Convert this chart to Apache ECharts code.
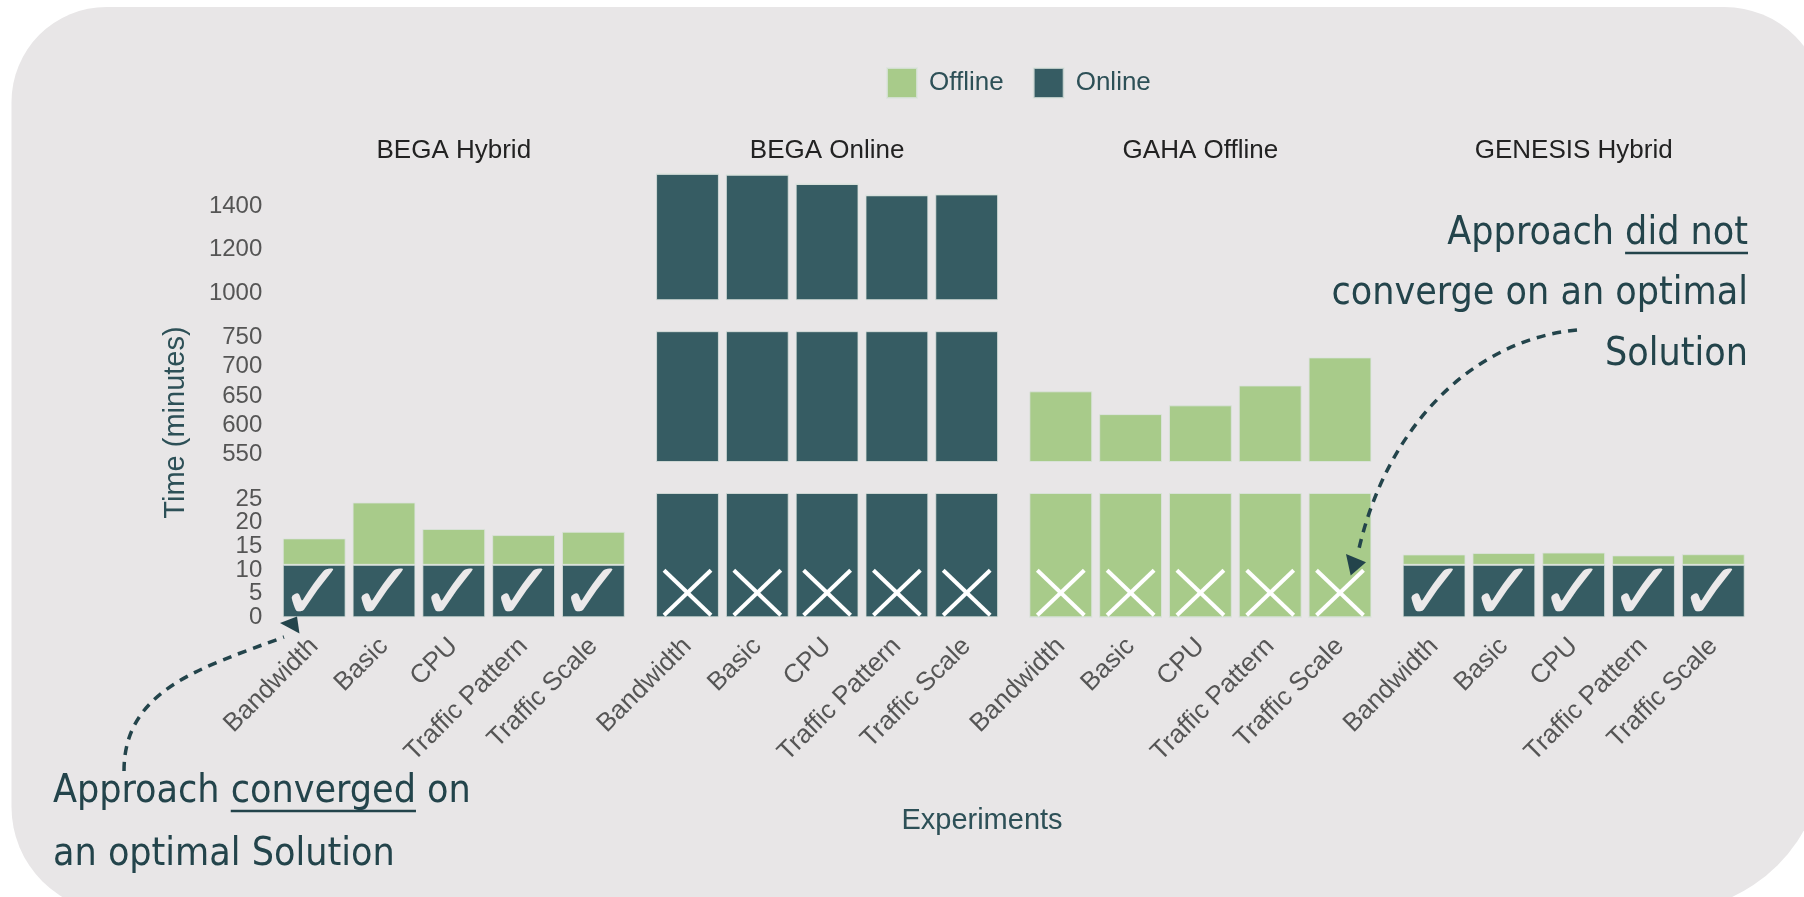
<!DOCTYPE html>
<html><head><meta charset="utf-8">
<script src="https://cdn.jsdelivr.net/npm/echarts@6/dist/echarts.min.js"></script>
<style>html,body{margin:0;padding:0;background:#fff}#chart{width:1804px;height:897px}</style>
</head><body><div id="chart"></div>
<script>
// ---------- data ----------
const categories = ['Bandwidth', 'Basic', 'CPU', 'Traffic Pattern', 'Traffic Scale'];
const facets = ['BEGA Hybrid', 'BEGA Online', 'GAHA Offline', 'GENESIS Hybrid'];
const onlineBEGAHybrid = [11.1, 11.1, 11.1, 11.1, 11.1];
const offlineBEGAHybrid = [5.6, 13.2, 7.6, 6.3, 7.0];
const onlineBEGAOnline = [1550, 1546, 1503, 1451, 1455];
const offlineBEGAOnline = [0, 0, 0, 0, 0];
const onlineGAHAOffline = [0, 0, 0, 0, 0];
const offlineGAHAOffline = [658, 619, 634, 668, 716];
const onlineGENESISHybrid = [11.1, 11.1, 11.1, 11.1, 11.1];
const offlineGENESISHybrid = [2.2, 2.5, 2.6, 2.0, 2.25];
const convergedFlags = [true, false, false, true];
const topTicks = [1000, 1200, 1400];
const midTicks = [550, 600, 650, 700, 750];
const lowTicks = [0, 5, 10, 15, 20, 25];
const legendNames = ['Offline', 'Online'];

const onlineByFacet = [onlineBEGAHybrid, onlineBEGAOnline, onlineGAHAOffline, onlineGENESISHybrid];
const offlineByFacet = [offlineBEGAHybrid, offlineBEGAOnline, offlineGAHAOffline, offlineGENESISHybrid];

// ---------- layout ----------
const C_OFF = '#a8cb8a', C_ON = '#365c63', TEAL_TXT = '#2d5057', INK = '#23444b';
const FONT = '"Liberation Sans", Arial, sans-serif';
const HAND = '"DejaVu Sans Condensed", "DejaVu Sans", sans-serif';
const panelLeft = [279.3, 652.6, 1025.9, 1399.2];
const panelWidth = 349;
const segs = [
  {top: 168.4, bottom: 299.7, min: 970, max: 1575, ticks: topTicks},
  {top: 331.7, bottom: 461.5, min: 538, max: 760, ticks: midTicks},
  {top: 493.5, bottom: 617.3, min: 0, max: 26.2, ticks: lowTicks}
];
const LABEL_MARGIN = 17;

const grids = [], xAxes = [], yAxes = [], series = [];
facets.forEach((fname, f) => {
  segs.forEach((sg, s) => {
    const g = f * 3 + s;
    grids.push({left: panelLeft[f], width: panelWidth, top: sg.top, height: sg.bottom - sg.top, containLabel: false});
    xAxes.push({type: 'category', gridIndex: g, data: categories,
      axisLine: {show: false}, axisTick: {show: false}, splitLine: {show: false},
      axisLabel: {show: s === 2, rotate: 45, interval: 0, fontSize: 26, color: '#555', margin: 25, fontFamily: FONT}});
    // densely packed low-segment tick labels are drawn by a custom series below (so none get hidden)
    yAxes.push({type: 'value', gridIndex: g, min: sg.min, max: sg.max,
      splitLine: {show: false}, axisLine: {show: false}, axisTick: {show: false},
      axisLabel: {show: f === 0 && s !== 2, customValues: sg.ticks, formatter: v => String(v),
        fontSize: 24, color: '#555', margin: LABEL_MARGIN, fontFamily: FONT}});
    const border = {borderColor: 'rgba(220,228,222,0.8)', borderWidth: 1};
    series.push({type: 'bar', name: 'Online', xAxisIndex: g, yAxisIndex: g, stack: 'st' + g,
      barCategoryGap: '10%', data: onlineByFacet[f], clip: true,
      itemStyle: Object.assign({color: C_ON}, border)});
    series.push({type: 'bar', name: 'Offline', xAxisIndex: g, yAxisIndex: g, stack: 'st' + g,
      barCategoryGap: '10%', data: offlineByFacet[f], clip: true,
      itemStyle: Object.assign({color: C_OFF}, border)});
    if (s === 2 && f === 0) {
      series.push({type: 'custom', name: 'ticks', xAxisIndex: g, yAxisIndex: g, clip: false, silent: true,
        data: sg.ticks.map(v => [0, v]),
        renderItem: (params, api) => {
          const y = api.coord([0, api.value(1)])[1];
          return {type: 'text', style: {text: String(api.value(1)), x: params.coordSys.x - LABEL_MARGIN, y: y,
            font: '24px ' + FONT, fill: '#555', textAlign: 'right', textVerticalAlign: 'middle'}};
        }});
    }
    if (s === 2) {
      const ok = convergedFlags[f];
      series.push({type: 'custom', name: 'marks', xAxisIndex: g, yAxisIndex: g, clip: false, z: 5, silent: true,
        data: categories.map((c, i) => [i, 0]),
        renderItem: (params, api) => {
          const p = api.coord([api.value(0), 0]);
          const cx = p[0], y0 = p[1];
          if (ok) {
            return {type: 'text', style: {text: '✓', x: cx - 1, y: y0 - 19, fill: '#ebe9ea',
              font: '80px "DejaVu Sans"', textAlign: 'center', textVerticalAlign: 'middle'}};
          }
          const st = {stroke: '#ffffff', lineWidth: 4};
          return {type: 'group', children: [
            {type: 'line', shape: {x1: cx - 23.5, y1: y0 - 47, x2: cx + 23.5, y2: y0 - 2}, style: st},
            {type: 'line', shape: {x1: cx + 23.5, y1: y0 - 47, x2: cx - 23.5, y2: y0 - 2}, style: st}
          ]};
        }});
    }
  });
});

// text measurement for underlines
const mctx = document.createElement('canvas').getContext('2d');
function tw(text, font) { mctx.font = font; return mctx.measureText(text).width; }
const HF = '39px ' + HAND;
const ZT = 100;

const graphics = [
  {type: 'rect', z: -10, shape: {x: 11.5, y: 7, width: 1813, height: 905, r: [95, 100, 160, 105]}, style: {fill: '#e8e6e7'}},
  ...facets.map((t, f) => ({type: 'text', z: ZT, style: {text: t, x: panelLeft[f] + panelWidth / 2, y: 151,
    font: '26px ' + FONT, fill: '#222', textAlign: 'center', textVerticalAlign: 'middle'}})),
  {type: 'text', z: ZT, style: {text: 'Experiments', x: 982, y: 821, font: '29px ' + FONT, fill: TEAL_TXT, textAlign: 'center', textVerticalAlign: 'middle'}},
  {type: 'text', z: ZT, rotation: Math.PI / 2, x: 176, y: 422.5, style: {text: 'Time (minutes)', x: 0, y: 0, font: '29px ' + FONT, fill: TEAL_TXT, textAlign: 'center', textVerticalAlign: 'middle'}},
  {type: 'text', z: ZT, style: {text: 'Approach converged on', x: 53, y: 792, font: HF, fill: INK, textAlign: 'left', textVerticalAlign: 'middle'}},
  {type: 'text', z: ZT, style: {text: 'an optimal Solution', x: 53, y: 855, font: HF, fill: INK, textAlign: 'left', textVerticalAlign: 'middle'}},
  {type: 'line', z: ZT, shape: {x1: 53 + tw('Approach ', HF), y1: 811, x2: 53 + tw('Approach converged', HF), y2: 811}, style: {stroke: INK, lineWidth: 2.5}},
  {type: 'text', z: ZT, style: {text: 'Approach did not', x: 1748, y: 234, font: HF, fill: INK, textAlign: 'right', textVerticalAlign: 'middle'}},
  {type: 'text', z: ZT, style: {text: 'converge on an optimal', x: 1748, y: 294, font: HF, fill: INK, textAlign: 'right', textVerticalAlign: 'middle'}},
  {type: 'text', z: ZT, style: {text: 'Solution', x: 1748, y: 355, font: HF, fill: INK, textAlign: 'right', textVerticalAlign: 'middle'}},
  {type: 'line', z: ZT, shape: {x1: 1748 - tw('did not', HF), y1: 253, x2: 1748, y2: 253}, style: {stroke: INK, lineWidth: 2.5}},
  {type: 'bezierCurve', z: ZT, shape: {x1: 124, y1: 771, cpx1: 124, cpy1: 690, cpx2: 200, cpy2: 668, x2: 284, y2: 637},
    style: {fill: null, stroke: INK, lineWidth: 3.5, lineDash: [9, 7]}},
  {type: 'polygon', z: ZT, shape: {points: [[280, 623], [297, 616.5], [299.5, 633.5]]}, style: {fill: INK}},
  {type: 'bezierCurve', z: ZT, shape: {x1: 1577, y1: 330, cpx1: 1470, cpy1: 340, cpx2: 1385, cpy2: 430, x2: 1358, y2: 553},
    style: {fill: null, stroke: INK, lineWidth: 3.5, lineDash: [9, 7]}},
  {type: 'polygon', z: ZT, shape: {points: [[1346, 554], [1366, 562.3], [1350.7, 575.5]]}, style: {fill: INK}}
];

const chart = echarts.init(document.getElementById('chart'), null, {renderer: 'canvas'});
chart.setOption({
  animation: false,
  backgroundColor: '#ffffff',
  legend: {data: legendNames, left: 886, top: 67, padding: 0, itemWidth: 30, itemHeight: 30, itemGap: 29, icon: 'rect',
    selectedMode: false, textStyle: {fontSize: 26, color: TEAL_TXT, fontFamily: FONT, padding: [0, 0, 0, 7]}},
  grid: grids, xAxis: xAxes, yAxis: yAxes, series: series, graphic: graphics
});
</script></body></html>
